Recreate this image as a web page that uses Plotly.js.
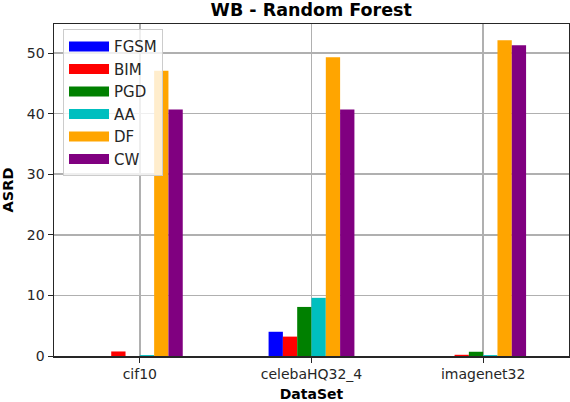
<!DOCTYPE html>
<html>
<head>
<meta charset="utf-8">
<script src="https://cdn.plot.ly/plotly-3.0.1.min.js"></script>
<style>
    body { margin: 0; padding: 0; background: #fff; }
    #chart { width: 570px; height: 402px; }
</style>
</head>
<body>
<div id="chart"></div>
<script>
// Datasets on the x axis
const DataSets = ['cif10', 'celebaHQ32_4', 'imagenet32'];

// ASRD per attack, one value per dataset
const FGSM = [0.0, 4.0, 0.0];
const BIM = [0.75, 3.2, 0.2];
const PGD = [0.0, 8.1, 0.7];
const AA = [0.15, 9.6, 0.15];
const DF = [47.1, 49.3, 52.1];
const CW = [40.7, 40.7, 51.3];

const AttackNames = ['FGSM', 'BIM', 'PGD', 'AA', 'DF', 'CW'];
const AttackValues = [FGSM, BIM, PGD, AA, DF, CW];
const AttackColors = ['#0000ff', '#ff0000', '#008000', '#00bfbf', '#ffa500', '#800080'];

const FontName = 'DejaVu Sans, sans-serif';

// Config with plotly graphics settings
const PlotlyConfig = {
    displayModeBar: false,
    staticPlot: true
};

function plotChart() {
    var traces = [];

    // Bars, hidden from legend
    for (let i = 0; i < AttackNames.length; i++) {
        traces.push({
            x: DataSets,
            y: AttackValues[i],
            name: AttackNames[i],
            type: 'bar',
            marker: { color: AttackColors[i] },
            showlegend: false,
            hoverinfo: 'none'
        });
    }

    // Legend entries drawn as wide patches
    for (let i = 0; i < AttackNames.length; i++) {
        traces.push({
            x: [null],
            y: [null],
            name: AttackNames[i],
            type: 'scatter',
            mode: 'lines',
            line: { color: AttackColors[i], width: 10 },
            showlegend: true,
            hoverinfo: 'none'
        });
    }

    var layout = {
        width: 570,
        height: 402,
        margin: { l: 54, r: 1, t: 24, b: 46 },
        paper_bgcolor: '#fff',
        plot_bgcolor: '#fff',
        barmode: 'group',
        bargap: 0.5,
        bargroupgap: 0,
        font: { family: FontName, size: 14, color: '#262626' },
        title: {
            text: '<b>WB - Random Forest</b>',
            font: { family: FontName, size: 17.5, color: '#000' },
            x: 0.546,
            xanchor: 'center',
            y: 1 - 10 / 402,
            yanchor: 'middle'
        },
        xaxis: {
            type: 'category',
            range: [-0.5, 2.5],
            showgrid: true,
            gridcolor: '#b0b0b0',
            gridwidth: 1.6,
            showline: true,
            linecolor: '#262626',
            linewidth: 1.5,
            mirror: true,
            ticks: 'outside',
            ticklen: 5,
            tickcolor: '#262626',
            tickfont: { family: FontName, size: 14, color: '#262626' },
            title: {
                text: '<b>DataSet</b>',
                font: { family: FontName, size: 14, color: '#000' },
                standoff: 10
            },
            fixedrange: true
        },
        yaxis: {
            range: [0, 54.8],
            tickvals: [0, 10, 20, 30, 40, 50],
            showgrid: true,
            gridcolor: '#b0b0b0',
            gridwidth: 1.6,
            zeroline: false,
            showline: true,
            linecolor: '#262626',
            linewidth: 1.5,
            mirror: true,
            ticks: 'outside',
            ticklen: 5,
            tickcolor: '#262626',
            tickfont: { family: FontName, size: 14, color: '#262626' },
            title: {
                text: '<b>ASRD</b>',
                font: { family: FontName, size: 14.5, color: '#000' },
                standoff: 10
            },
            fixedrange: true
        },
        legend: {
            x: 0.0175,
            y: 0.984,
            xanchor: 'left',
            yanchor: 'top',
            bgcolor: 'rgba(255,255,255,0.8)',
            bordercolor: '#cccccc',
            borderwidth: 1,
            itemwidth: 40,
            font: { family: FontName, size: 15, color: '#262626' }
        }
    };

    Plotly.newPlot('chart', traces, layout, PlotlyConfig);
}

plotChart();
</script>
</body>
</html>
